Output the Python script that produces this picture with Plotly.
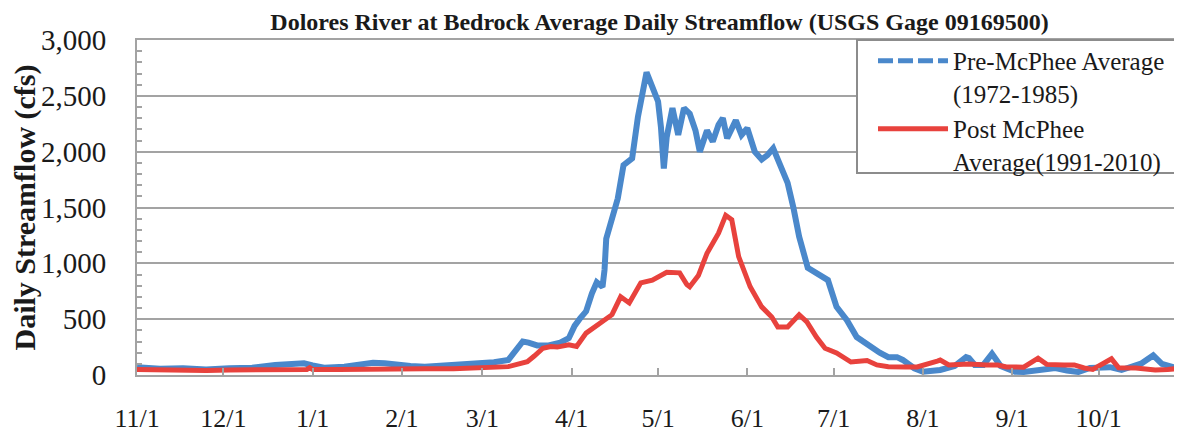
import plotly.graph_objects as go

# ---- data (days since Nov 1) ----
month_ticks = [0, 30, 61, 92, 120, 151, 181, 212, 242, 273, 304, 334]
month_labels = ["11/1", "12/1", "1/1", "2/1", "3/1", "4/1", "5/1", "6/1", "7/1", "8/1", "9/1", "10/1"]

pre_days = [0, 8, 16, 24, 32, 40, 48, 54, 58, 61, 65, 72, 78, 82, 86, 90, 95, 100, 106, 112,
            118, 124, 129, 131, 134, 136, 139, 143, 147, 150, 152, 154, 156, 158, 159.7, 161.7,
            162.4, 163, 165, 167, 169, 172, 174, 176, 177, 179, 181, 182, 183, 184, 186, 188,
            190, 192, 194, 195.5, 198, 200, 202, 203.5, 205, 208, 210, 212, 214.6, 217, 219,
            221, 223, 226, 228, 230, 233, 236, 240, 243, 246.6, 250, 254.6, 258, 261, 264, 266,
            270, 273, 279, 284, 288, 289, 291, 294, 297, 300, 305, 308, 313, 319, 323, 327, 331,
            338, 342, 349, 353, 356, 360, 364]
pre_flow = [70, 55, 60, 50, 60, 65, 90, 100, 105, 85, 65, 75, 100, 110, 105, 90, 80, 75, 85, 90,
            100, 115, 135, 200, 300, 290, 265, 265, 290, 330, 440, 510, 570, 730, 830, 790,
            940, 1220, 1390, 1580, 1880, 1940, 2310, 2620, 2710, 2580, 2450, 2220, 1850, 2130, 2390, 2150,
            2390, 2340, 2190, 2000, 2190, 2090, 2240, 2300, 2120, 2280, 2150, 2210, 2000, 1930, 1970,
            2030, 1900, 1720, 1500, 1240, 960, 915, 850, 610, 490, 340, 250, 200, 160, 160, 135,
            60, 30, 45, 80, 160, 152, 90, 90, 190, 80, 30, 27, 45, 63, 40, 27, 63,
            70, 45, 105, 175, 100, 70, 60]

post_days = [0, 8, 16, 24, 32, 40, 50, 59, 60, 61, 70, 80, 90, 100, 110, 119, 125, 129, 132,
             135.6, 138, 141, 143.7, 146, 150, 152.7, 156, 160.7, 165, 168, 171, 175, 179, 184,
             188.5, 191, 192, 195, 198, 202, 204.5, 206.6, 209, 213, 217, 220.5, 222.6, 226, 230,
             232.7, 236, 239, 243, 248, 253.6, 257, 261, 267, 271, 278, 279, 282, 289, 295, 299,
             302, 308, 313, 316, 322, 325.6, 329, 332, 338.5, 341, 347, 353.7, 358, 364]
post_flow = [50, 45, 45, 40, 45, 45, 50, 50, 65, 50, 50, 55, 50, 55, 55, 63, 70, 75, 95,
             120, 170, 240, 255, 250, 270, 255, 375, 465, 540, 700, 645, 825, 850, 920,
             915, 810, 790, 890, 1090, 1270, 1430, 1390, 1060, 790, 610, 520, 430, 430, 540,
             475, 340, 240, 197, 116, 130, 90, 75, 72, 72, 125, 134, 90, 98, 90, 90,
             72, 70, 150, 95, 90, 90, 63, 50, 145, 65, 63, 45, 50, 63]

pre_name = "Pre-McPhee Average<br>(1972-1985)"
post_name = "Post McPhee<br>Average(1991-2010)"

BLUE = "#4a88cb"
RED = "#e8423d"
GRID = "#a3a3a3"
FONT = "Liberation Serif"
TXT = "#1a1a1a"

fig = go.Figure()
fig.add_trace(go.Scatter(x=pre_days, y=pre_flow, mode="lines", name=pre_name,
                         line=dict(color=BLUE, width=6), showlegend=False))
fig.add_trace(go.Scatter(x=[None], y=[None], mode="lines", name=pre_name,
                         line=dict(color=BLUE, width=5, dash="15px,5px")))
fig.add_trace(go.Scatter(x=post_days, y=post_flow, mode="lines", name=post_name,
                         line=dict(color=RED, width=5)))

# legend frame (box in the upper right of the plot area)
fig.add_shape(type="rect", xref="paper", yref="paper",
              x0=0.689, x1=1.0, y0=0.603, y1=1.0,
              line=dict(color="#8c8c8c", width=2), fillcolor="white", layer="above")

# the page body adds an 8px offset, so margins are set 8px smaller on the left/top
fig.update_layout(
    width=1182, height=434,
    margin=dict(l=129, r=8, t=32, b=67),
    paper_bgcolor="white", plot_bgcolor="white",
    font=dict(family=FONT, size=22, color=TXT),
    title=dict(text="<b>Dolores River at Bedrock Average Daily Streamflow (USGS Gage 09169500)</b>",
               x=0.5, xref="paper", xanchor="center",
               y=1 - 14 / 434, yref="container", yanchor="middle",
               font=dict(family=FONT, size=24, color=TXT)),
    xaxis=dict(range=[0, 363], tickmode="array", tickvals=month_ticks, ticktext=month_labels,
               showgrid=False, zeroline=False, showline=True, linecolor=GRID, linewidth=2,
               mirror=True, ticks="inside", ticklen=7, tickwidth=2, tickcolor=GRID,
               ticklabelstandoff=19, tickfont=dict(family=FONT, size=26, color=TXT),
               automargin=False),
    yaxis=dict(range=[0, 3000], dtick=500, tickformat=",d",
               showgrid=True, gridcolor=GRID, gridwidth=2, zeroline=False,
               showline=True, linecolor=GRID, linewidth=2, mirror=True,
               ticks="inside", ticklen=6, tickwidth=1.5, tickcolor=GRID,
               minor=dict(dtick=100, ticks="inside", ticklen=5, tickwidth=1.5,
                          tickcolor=GRID, showgrid=False),
               ticklabelstandoff=23, tickfont=dict(family=FONT, size=29, color=TXT),
               title=dict(text="<b>Daily Streamflow (cfs)</b>", standoff=6,
                          font=dict(family=FONT, size=30, color=TXT)),
               automargin=False),
    legend=dict(x=0.689, y=1.006, xanchor="left", yanchor="top", xref="paper", yref="paper",
                bgcolor="rgba(0,0,0,0)", borderwidth=0,
                font=dict(family=FONT, size=25, color=TXT),
                valign="top", itemwidth=70, tracegroupgap=0, indentation=16),
)

fig.write_html("out.html")
